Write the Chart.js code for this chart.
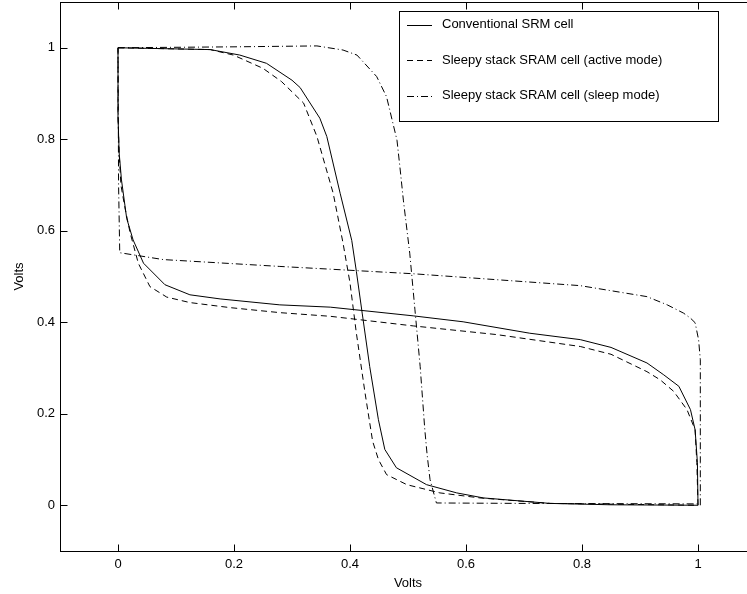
<!DOCTYPE html>
<html><head><meta charset="utf-8">
<script src="https://cdn.jsdelivr.net/npm/chart.js@4"></script>
<style>html,body{margin:0;padding:0;overflow:hidden;background:#fff;width:747px;height:594px}canvas{display:block}</style>
</head><body><canvas id="c" width="760" height="594" style="width:760px;height:594px"></canvas>
<script>
// ---- data ----
const tickValues = [0, 0.2, 0.4, 0.6, 0.8, 1];
const tickLabels = ['0', '0.2', '0.4', '0.6', '0.8', '1'];
const seriesNames = ['Conventional SRM cell', 'Sleepy stack SRAM cell (active mode)', 'Sleepy stack SRAM cell (sleep mode)'];
const axisTitle = 'Volts';

const conventionalX = [0, 0.159, 0.21, 0.256, 0.30, 0.314, 0.348, 0.36, 0.383, 0.403, 0.411, 0.421, 0.434, 0.449, 0.46, 0.48, 0.532, 0.584, 0.63, 0.745, 0.85, 1.0,
  0.999, 0.995, 0.987, 0.967, 0.941, 0.912, 0.85, 0.797, 0.71, 0.595, 0.509, 0.366, 0.279, 0.176, 0.124, 0.081, 0.044, 0.026, 0.015, 0.006, 0.002, 0, 0];
const conventionalY = [1.0, 0.996, 0.984, 0.966, 0.929, 0.913, 0.846, 0.806, 0.682, 0.579, 0.511, 0.42, 0.303, 0.187, 0.122, 0.082, 0.045, 0.027, 0.016, 0.004, 0.001, 0.0,
  0.093, 0.165, 0.209, 0.26, 0.285, 0.311, 0.345, 0.362, 0.376, 0.401, 0.414, 0.433, 0.438, 0.451, 0.46, 0.482, 0.529, 0.58, 0.627, 0.711, 0.77, 0.85, 1.0];

const activeX = [0, 0.159, 0.199, 0.25, 0.282, 0.32, 0.343, 0.371, 0.388, 0.40, 0.411, 0.426, 0.439, 0.449, 0.463, 0.498, 0.555, 0.624, 0.745, 1.0,
  0.998, 0.995, 0.981, 0.958, 0.935, 0.912, 0.85, 0.797, 0.653, 0.509, 0.366, 0.279, 0.193, 0.124, 0.084, 0.055, 0.035, 0.021, 0.012, 0.005, 0.002, 0, 0];
const activeY = [1.0, 0.996, 0.984, 0.955, 0.926, 0.879, 0.806, 0.682, 0.573, 0.486, 0.376, 0.245, 0.14, 0.10, 0.067, 0.045, 0.027, 0.016, 0.004, 0.0,
  0.093, 0.165, 0.209, 0.249, 0.274, 0.292, 0.33, 0.347, 0.373, 0.392, 0.413, 0.421, 0.432, 0.443, 0.455, 0.478, 0.529, 0.595, 0.65, 0.70, 0.77, 0.85, 1.0];

const sleepX = [0, 0.2, 0.343, 0.388, 0.412, 0.446, 0.463, 0.481, 0.486, 0.492, 0.503, 0.512, 0.521, 0.529, 0.533, 0.538, 0.549, 0.7, 1.0,
  1.004, 1.004, 1.004, 1.001, 0.995, 0.987, 0.975, 0.947, 0.912, 0.797, 0.653, 0.509, 0.366, 0.279, 0.078, 0.003, 0.001, 0];
const sleepY = [1.0, 1.002, 1.004, 0.995, 0.984, 0.937, 0.893, 0.798, 0.74, 0.667, 0.551, 0.427, 0.303, 0.165, 0.11, 0.056, 0.005, 0.004, 0.003,
  0.0, 0.093, 0.318, 0.362, 0.399, 0.409, 0.42, 0.438, 0.456, 0.48, 0.493, 0.506, 0.516, 0.522, 0.537, 0.552, 0.7, 1.0];

const dashStyles = [[], [6, 4], [7, 3, 1, 3]];

function pts(xs, ys) { return xs.map((x, i) => ({x: x, y: ys[i]})); }

const FONT = {family: 'Liberation Sans, Arial, Helvetica, sans-serif', size: 13};

const seriesData = [pts(conventionalX, conventionalY), pts(activeX, activeY), pts(sleepX, sleepY)];
const datasets = seriesData.map((d, i) => ({
  label: seriesNames[i], data: d, showLine: true, borderColor: '#000', borderWidth: 1,
  borderDash: dashStyles[i], pointRadius: 0, tension: 0, fill: false
}));

const frame = {
  id: 'frame',
  afterDatasetsDraw(chart) {
    const ctx = chart.ctx, a = chart.chartArea;
    const xs = chart.scales.x, ys = chart.scales.y;
    ctx.save();
    ctx.strokeStyle = '#000'; ctx.lineWidth = 1; ctx.setLineDash([]);
    const L = Math.round(a.left) + 0.5, R = Math.round(a.right) - 0.5, T = Math.round(a.top) + 0.5, B = Math.round(a.bottom) + 0.5;
    ctx.strokeRect(L, T, R - L, B - T);
    const tl = 7;
    ctx.beginPath();
    tickValues.forEach(v => {
      const px = Math.round(xs.getPixelForValue(v)) + 0.5;
      ctx.moveTo(px, B); ctx.lineTo(px, B - tl);
      ctx.moveTo(px, T); ctx.lineTo(px, T + tl);
      const py = Math.round(ys.getPixelForValue(v)) + 0.5;
      ctx.moveTo(L, py); ctx.lineTo(L + tl, py);
      ctx.moveTo(R, py); ctx.lineTo(R - tl, py);
    });
    ctx.stroke();
    // legend
    const lx = 399.5, ly = 11.5, lw = 319, lh = 110;
    ctx.fillStyle = '#fff';
    ctx.fillRect(lx, ly, lw, lh);
    ctx.strokeRect(lx, ly, lw, lh);
    ctx.font = FONT.size + 'px ' + FONT.family;
    ctx.textBaseline = 'middle'; ctx.textAlign = 'left'; ctx.fillStyle = '#000';
    const rows = [24.5, 60, 95.5];
    chart.data.datasets.forEach((ds, i) => {
      const y = Math.round(rows[i]) + 0.5;
      ctx.setLineDash(ds.borderDash);
      ctx.beginPath(); ctx.moveTo(407, y); ctx.lineTo(432, y); ctx.stroke();
      ctx.setLineDash([]);
      ctx.fillText(ds.label, 442, rows[i]);
    });
    ctx.restore();
  }
};

function fmt(v) { const i = tickValues.findIndex(t => Math.abs(t - v) < 1e-9); return i >= 0 ? tickLabels[i] : ''; }

new Chart(document.getElementById('c'), {
  type: 'scatter',
  data: {datasets: datasets},
  options: {
    responsive: false, animation: false, devicePixelRatio: 1,
    layout: {padding: {top: 2, right: 4, left: 0, bottom: 0}},
    plugins: {legend: {display: false}, tooltip: {enabled: false}},
    scales: {
      x: {
        type: 'linear', min: -0.1, max: 1.1,
        afterBuildTicks: s => { s.ticks = tickValues.map(v => ({value: v})); },
        afterFit: s => { s.height = 43; s.paddingLeft = 0; s.paddingRight = 0; },
        grid: {display: false, drawTicks: false},
        border: {display: false},
        ticks: {callback: fmt, color: '#000', font: FONT, padding: 6, maxRotation: 0, autoSkip: false},
        title: {display: true, text: axisTitle, color: '#000', font: FONT, padding: {top: 0, bottom: 3}}
      },
      y: {
        type: 'linear', min: -0.1, max: 1.1,
        afterBuildTicks: s => { s.ticks = tickValues.map(v => ({value: v})); },
        afterFit: s => { s.width = 60; s.paddingTop = 0; s.paddingBottom = 0; },
        grid: {display: false, drawTicks: false},
        border: {display: false},
        ticks: {callback: fmt, color: '#000', font: FONT, padding: 5, autoSkip: false},
        title: {display: true, text: axisTitle, color: '#000', font: FONT, padding: {top: 12, bottom: 0}}
      }
    }
  },
  plugins: [frame]
});
</script></body></html>
